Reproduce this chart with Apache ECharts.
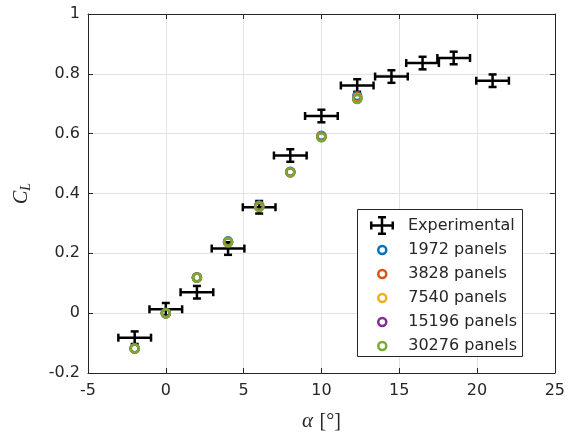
<!DOCTYPE html>
<html>
<head>
<meta charset="utf-8">
<script src="https://cdn.jsdelivr.net/npm/echarts@6/dist/echarts.min.js"></script>
<style>html,body{margin:0;padding:0;background:#fff;}#c{width:568px;height:437px;}</style>
</head>
<body>
<div id="c"></div>
<script>
// Experimental data
var expAlpha = [-2.0, 0.0, 2.0, 4.0, 6.0, 8.0, 10.0, 12.3, 14.5, 16.5, 18.5, 21.0];
var expCL = [-0.082, 0.013, 0.070, 0.216, 0.354, 0.527, 0.659, 0.761, 0.791, 0.836, 0.853, 0.777];
var expAlphaErr = [1.05, 1.05, 1.05, 1.05, 1.05, 1.05, 1.05, 1.05, 1.05, 1.05, 1.05, 1.05];
var expCLErr = [0.021, 0.021, 0.021, 0.021, 0.021, 0.021, 0.021, 0.021, 0.021, 0.021, 0.021, 0.021];

// Numerical data
var numAlpha = [-2, 0, 2, 4, 6, 8, 10, 12.3];
var cl1972 = [-0.117, 0.001, 0.120, 0.240, 0.360, 0.473, 0.593, 0.726];
var cl3828 = [-0.118, 0.000, 0.119, 0.239, 0.358, 0.472, 0.591, 0.722];
var cl7540 = [-0.118, 0.000, 0.119, 0.238, 0.357, 0.471, 0.590, 0.719];
var cl15196 = [-0.118, 0.000, 0.119, 0.237, 0.356, 0.471, 0.589, 0.717];
var cl30276 = [-0.118, 0.000, 0.119, 0.237, 0.355, 0.471, 0.588, 0.716];

var seriesNames = ['1972 panels', '3828 panels', '7540 panels', '15196 panels', '30276 panels'];
var seriesValues = [cl1972, cl3828, cl7540, cl15196, cl30276];
var seriesColors = ['#0072BD', '#D95319', '#EDB120', '#7E2F8E', '#77AC30'];

var xTicks = [-5, 0, 5, 10, 15, 20, 25];
var yTicks = [-0.2, 0, 0.2, 0.4, 0.6, 0.8, 1];

var TXT = '#262626';
var FONT = 'DejaVu Sans';
var errPath = 'path://M0,8.25h24v2.5h-24Z M0,5.5h2.5v8h-2.5Z M21.5,5.5h2.5v8h-2.5Z M10.75,0h2.5v19h-2.5Z M8,0h8v2.5h-8Z M8,16.5h8v2.5h-8Z';

var chart = echarts.init(document.getElementById('c'), null, {renderer: 'canvas'});

var expData = expAlpha.map(function (a, i) { return [a, expCL[i], expAlphaErr[i], expCLErr[i]]; });

var series = [{
  name: 'Experimental',
  type: 'custom',
  xAxisIndex: 0, yAxisIndex: 0,
  itemStyle: {color: '#000'},
  z: 3,
  data: expData,
  renderItem: function (params, api) {
    var x = api.value(0), y = api.value(1), dx = api.value(2), dy = api.value(3);
    var c = api.coord([x, y]);
    var l = api.coord([x - dx, y]);
    var r = api.coord([x + dx, y]);
    var t = api.coord([x, y + dy]);
    var b = api.coord([x, y - dy]);
    var cap = 4;
    var st = {stroke: '#000', lineWidth: 2.5};
    return {
      type: 'group',
      children: [
        {type: 'line', shape: {x1: l[0], y1: c[1], x2: r[0], y2: c[1]}, style: st},
        {type: 'line', shape: {x1: l[0], y1: c[1] - cap, x2: l[0], y2: c[1] + cap}, style: st},
        {type: 'line', shape: {x1: r[0], y1: c[1] - cap, x2: r[0], y2: c[1] + cap}, style: st},
        {type: 'line', shape: {x1: c[0], y1: t[1], x2: c[0], y2: b[1]}, style: st},
        {type: 'line', shape: {x1: c[0] - cap, y1: t[1], x2: c[0] + cap, y2: t[1]}, style: st},
        {type: 'line', shape: {x1: c[0] - cap, y1: b[1], x2: c[0] + cap, y2: b[1]}, style: st}
      ]
    };
  }
}];

seriesNames.forEach(function (n, k) {
  series.push({
    name: n,
    type: 'scatter',
    xAxisIndex: 0, yAxisIndex: 0,
    symbol: 'circle',
    symbolSize: 8,
    z: 4 + k,
    itemStyle: {color: 'rgba(0,0,0,0)', borderColor: seriesColors[k], borderWidth: 2.5, opacity: 1},
    emphasis: {disabled: true},
    data: numAlpha.map(function (a, i) { return [a, seriesValues[k][i]]; })
  });
});

var axisLine = {show: true, onZero: false, lineStyle: {color: '#262626', width: 1}};
var axisTick = {show: true, inside: true, length: 5, lineStyle: {color: '#262626', width: 1}};
var splitLine = {show: true, lineStyle: {color: '#e3e3e3', width: 1}};
var labelStyle = {color: TXT, fontFamily: FONT, fontSize: 16};

var option = {
  animation: false,
  backgroundColor: '#fff',
  grid: {left: 88, right: 11, top: 14, bottom: 64, containLabel: false},
  xAxis: [{
    type: 'value', min: xTicks[0], max: xTicks[xTicks.length - 1], interval: 5,
    position: 'bottom',
    axisLine: axisLine, axisTick: axisTick, splitLine: splitLine,
    axisLabel: Object.assign({margin: 10}, labelStyle),
    name: '{a|α}  {b|[°]}',
    nameLocation: 'middle', nameGap: 38,
    nameTextStyle: {
      color: TXT,
      rich: {
        a: {fontFamily: 'Liberation Serif', fontStyle: 'italic', fontSize: 21, color: TXT},
        b: {fontFamily: 'Liberation Serif', fontSize: 20, color: TXT}
      }
    }
  }, {
    type: 'value', min: xTicks[0], max: xTicks[xTicks.length - 1], interval: 5,
    position: 'top',
    axisLine: axisLine, axisTick: axisTick, splitLine: {show: false},
    axisLabel: {show: false}
  }],
  yAxis: [{
    type: 'value', min: yTicks[0], max: yTicks[yTicks.length - 1], interval: 0.2,
    position: 'left',
    axisLine: axisLine, axisTick: axisTick, splitLine: splitLine,
    axisLabel: Object.assign({margin: 8, formatter: function (v) { return String(Math.round(v * 10) / 10); }}, labelStyle),
    name: '{c|C}{l|L}',
    nameLocation: 'middle', nameGap: 55,
    nameTextStyle: {
      color: TXT,
      rich: {
        c: {fontFamily: 'Liberation Serif', fontStyle: 'italic', fontSize: 20, color: TXT},
        l: {fontFamily: 'Liberation Serif', fontStyle: 'italic', fontSize: 14, color: TXT, padding: [8, 0, 0, 0]}
      }
    }
  }, {
    type: 'value', min: yTicks[0], max: yTicks[yTicks.length - 1], interval: 0.2,
    position: 'right',
    axisLine: axisLine, axisTick: axisTick, splitLine: {show: false},
    axisLabel: {show: false}
  }],
  graphic: [{
    type: 'rect',
    left: 357, top: 209,
    shape: {width: 165, height: 147},
    style: {fill: '#fff', stroke: '#262626', lineWidth: 1},
    z: 50
  }],
  legend: [{
    orient: 'vertical',
    left: 370, top: 216,
    z: 60,
    itemWidth: 24, itemHeight: 19, itemGap: 5,
    padding: 0,
    selectedMode: false,
    textStyle: {color: TXT, fontFamily: FONT, fontSize: 16, padding: [0, 0, 0, 9]},
    data: [{name: 'Experimental', icon: errPath, itemStyle: {color: '#000'}}]
  }, {
    orient: 'vertical',
    left: 377, top: 242,
    z: 60,
    itemWidth: 10, itemHeight: 8, itemGap: 8,
    padding: 0,
    selectedMode: false,
    textStyle: {color: TXT, fontFamily: FONT, fontSize: 16, padding: [0, 0, 0, 16]},
    data: seriesNames.map(function (n, k) {
      return {name: n, icon: 'circle', itemStyle: {color: '#fff', borderColor: seriesColors[k], borderWidth: 2.5}};
    })
  }],
  series: series
};
chart.setOption(option);
</script>
</body>
</html>
